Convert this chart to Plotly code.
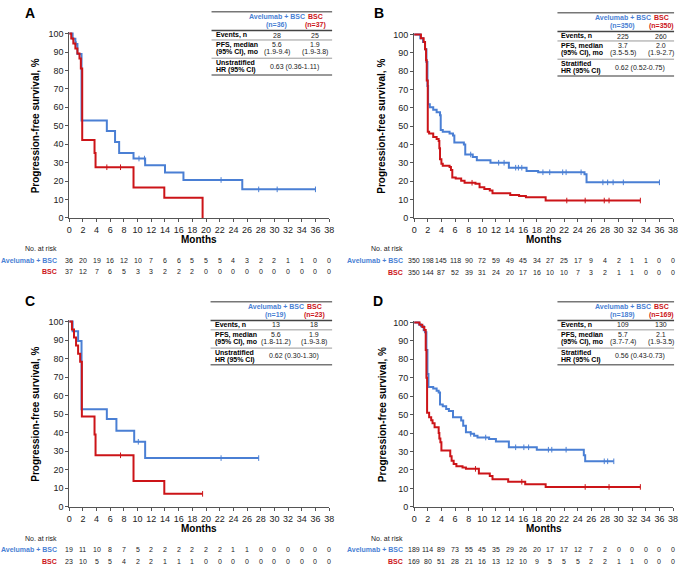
import plotly.graph_objects as go

# ---------------- DATA ----------------
MONTH_TICKS = list(range(0, 39, 2))
Y_TICKS = list(range(0, 101, 10))

# Panel A
A_avel_t = [0, 0.5, 0.9, 1.2, 1.8, 5.5, 6.7, 7.3, 9.4, 11.1, 14.0, 16.7, 25.3, 36.0]
A_avel_s = [100, 97.2, 94.4, 88.9, 52.8, 47.2, 41.2, 35.2, 32.2, 28.6, 24.7, 20.6, 15.5, 15.5]
A_avel_cens = [1.0, 10.2, 11.0, 22.2, 27.7, 30.4, 36.0]
A_bsc_t = [0, 0.3, 0.6, 0.9, 1.2, 1.5, 1.7, 1.9, 3.7, 3.85, 9.4, 13.9, 19.5]
A_bsc_s = [100, 97.3, 94.6, 91.9, 89.2, 86.5, 81.0, 42.3, 35.2, 27.5, 16.5, 11.0, 0]
A_bsc_cens = [5.5, 7.5]
A_risk_avel = [36, 20, 19, 16, 12, 10, 7, 6, 6, 5, 5, 5, 4, 3, 2, 2, 1, 1, 0, 0]
A_risk_bsc = [37, 12, 7, 6, 5, 3, 3, 2, 2, 2, 0, 0, 0, 0, 0, 0, 0, 0, 0, 0]
A_table = {"n": ["(n=36)", "(n=37)"], "events": ["28", "25"],
           "pfs": ["5.6", "(1.9-9.4)", "1.9", "(1.9-3.8)"],
           "hr_label": "Unstratified", "hr": "0.63 (0.36-1.11)"}

# Panel B
B_avel_t = [0, 0.9, 1.3, 1.6, 1.8, 1.95, 2.05, 2.3, 2.8, 3.3, 3.8, 3.9, 4.2, 5.2, 5.7, 5.9, 7.3,
            7.5, 8.6, 9.2, 11.2, 13.9, 16.5, 18.2, 25.0, 25.3, 36.0]
B_avel_s = [100, 98, 96, 92, 85, 72, 62, 60.3, 59, 57.7, 56, 48, 47, 46, 45, 41.2, 40,
            34.6, 33.3, 31.4, 30.1, 27.4, 25.6, 24.9, 23.8, 19.4, 19.4]
B_avel_cens = [8.3, 12.4, 13.2, 14.9, 15.3, 15.8, 18.9, 19.9, 21.8, 22.3, 24.5, 27.7, 28.4,
               29.2, 30.7, 36.0]
B_bsc_t = [0, 1.0, 1.4, 1.6, 1.75, 1.85, 2.0, 2.2, 2.8, 3.3, 3.6, 3.7, 3.8, 4.0, 4.2, 5.2,
           5.4, 5.6, 6.1, 6.9, 7.4, 9.0, 9.6, 10.3, 11.1, 11.5, 14.1, 15.4, 16.4, 19.3, 33.2]
B_bsc_s = [100, 98, 96, 92, 86, 75, 47, 46, 44.1, 43, 42, 38, 32, 29.5, 28.5, 27.8,
           26.2, 22, 21.5, 20.3, 19.2, 18.6, 16.7, 15.8, 14.9, 13.4, 12.5, 12, 11.3, 9.5, 9.5]
B_bsc_cens = [8.5, 22.4, 25.1, 27.9, 28.6, 33.2]
B_risk_avel = [350, 198, 145, 118, 90, 72, 59, 49, 45, 34, 27, 25, 17, 9, 4, 2, 1, 1, 0, 0]
B_risk_bsc = [350, 144, 87, 52, 39, 31, 24, 20, 17, 16, 10, 10, 7, 3, 2, 1, 1, 0, 0, 0]
B_table = {"n": ["(n=350)", "(n=350)"], "events": ["225", "260"],
           "pfs": ["3.7", "(3.5-5.5)", "2.0", "(1.9-2.7)"],
           "hr_label": "Stratified", "hr": "0.62 (0.52-0.75)"}

# Panel C
C_avel_t = [0, 0.5, 1.3, 1.8, 5.5, 6.9, 9.5, 11.1, 27.7]
C_avel_s = [100, 94.7, 89.5, 52.6, 47.4, 41.1, 35.1, 26.3, 26.3]
C_avel_cens = [10.1, 22.2, 27.7]
C_bsc_t = [0, 0.4, 0.7, 1.0, 1.3, 1.6, 1.85, 3.7, 3.85, 9.4, 13.9, 19.5]
C_bsc_s = [100, 95.7, 91.3, 87.0, 82.6, 78.3, 48.7, 39.0, 27.8, 13.9, 7.0, 7.0]
C_bsc_cens = [7.5, 19.5]
C_risk_avel = [19, 11, 10, 8, 7, 5, 2, 2, 2, 2, 2, 2, 1, 1, 0, 0, 0, 0, 0, 0]
C_risk_bsc = [23, 10, 5, 5, 4, 2, 2, 1, 1, 1, 0, 0, 0, 0, 0, 0, 0, 0, 0, 0]
C_table = {"n": ["(n=19)", "(n=23)"], "events": ["13", "18"],
           "pfs": ["5.6", "(1.8-11.2)", "1.9", "(1.9-3.8)"],
           "hr_label": "Unstratified", "hr": "0.62 (0.30-1.30)"}

# Panel D
D_avel_t = [0, 0.7, 1.0, 1.4, 1.6, 1.8, 1.95, 2.1, 2.8, 3.3, 3.6, 3.8, 4.2, 4.7, 5.1, 5.7,
            6.9, 7.2, 7.6, 8.3, 8.8, 9.3, 11.0, 12.0, 13.9, 18.0, 24.9, 25.1, 29.3]
D_avel_s = [100, 98.9, 97.9, 95.8, 94.7, 85, 72, 65, 64.2, 63, 62, 55.5, 54.5, 53, 52, 48.6,
            46.8, 44, 40.5, 39.6, 38.5, 37.6, 36.8, 35.5, 32.3, 31, 28, 24.7, 24.7]
D_avel_cens = [8.3, 10.5, 14.9, 16.1, 16.8, 19.7, 20.2, 22.3, 27.9, 28.4, 29.3]
D_bsc_t = [0, 0.8, 1.2, 1.5, 1.7, 1.8, 1.9, 2.2, 2.5, 2.7, 3.0, 3.6, 3.7, 3.85, 4.0, 5.3,
           5.5, 5.8, 6.2, 7.1, 7.6, 9.5, 11.1, 11.5, 13.8, 16.3, 19.3, 33.2]
D_bsc_s = [100, 98.8, 97.6, 95.9, 85, 70, 51, 48.6, 47, 45.4, 43.2, 40, 37, 35, 30.5, 27.4,
           25, 23.3, 22, 21.3, 20.6, 18.1, 16.7, 14.9, 13.6, 12.2, 10.8, 10.8]
D_bsc_cens = [9.0, 15.8, 25.1, 28.6, 33.2]
D_risk_avel = [189, 114, 89, 73, 55, 45, 35, 29, 26, 20, 17, 17, 12, 7, 2, 0, 0, 0, 0, 0]
D_risk_bsc = [169, 80, 51, 28, 21, 16, 13, 12, 10, 9, 5, 5, 5, 2, 2, 1, 1, 0, 0, 0]
D_table = {"n": ["(n=189)", "(n=169)"], "events": ["109", "130"],
           "pfs": ["5.7", "(3.7-7.4)", "2.1", "(1.9-3.5)"],
           "hr_label": "Stratified", "hr": "0.56 (0.43-0.73)"}

ARM_LABELS = ["Avelumab + BSC", "BSC"]

# ---------------- STYLE / LAYOUT ----------------
W, H = 685, 571
FONT = "Arial, 'Liberation Sans', Helvetica, sans-serif"
BLUE = "#4a7fd4"
RED = "#cc1418"
INK = "#222222"
AXC = "#555555"


def px(x):
    return x / W


def py(y):
    return 1 - y / H


def step_at(t, s, x):
    v = s[0]
    for ti, si in zip(t, s):
        if ti <= x:
            v = si
        else:
            break
    return v


panels = [
    dict(letter="A", ax="", x0=67, x1=330, ytop=31, ybot=218, tl=211, tr=333, tt=9,
         risk=[249, 261, 272], months=240, lab_r=57, ytitle=33, let=(27, 10.5),
         avel=(A_avel_t, A_avel_s, A_avel_cens), bsc=(A_bsc_t, A_bsc_s, A_bsc_cens),
         ravel=A_risk_avel, rbsc=A_risk_bsc, table=A_table),
    dict(letter="B", ax="2", x0=416, x1=678, ytop=32, ybot=218, tl=561, tr=679, tt=10,
         risk=[249, 261, 273], months=240, lab_r=407, ytitle=383, let=(380, 10),
         avel=(B_avel_t, B_avel_s, B_avel_cens), bsc=(B_bsc_t, B_bsc_s, B_bsc_cens),
         ravel=B_risk_avel, rbsc=B_risk_bsc, table=B_table),
    dict(letter="C", ax="3", x0=67, x1=330, ytop=323, ybot=511, tl=210, tr=333, tt=303,
         risk=[543, 554, 566], months=533, lab_r=57, ytitle=33, let=(27, 302),
         avel=(C_avel_t, C_avel_s, C_avel_cens), bsc=(C_bsc_t, C_bsc_s, C_bsc_cens),
         ravel=C_risk_avel, rbsc=C_risk_bsc, table=C_table),
    dict(letter="D", ax="4", x0=416, x1=678, ytop=324, ybot=511, tl=561, tr=679, tt=303,
         risk=[543, 554, 566], months=533, lab_r=407, ytitle=384, let=(379, 302),
         avel=(D_avel_t, D_avel_s, D_avel_cens), bsc=(D_bsc_t, D_bsc_s, D_bsc_cens),
         ravel=D_risk_avel, rbsc=D_risk_bsc, table=D_table),
]

fig = go.Figure()
annotations = []
shapes = []
layout_axes = {}

YMAX = 101.0

for p in panels:
    xa = "x" + p["ax"]
    ya = "y" + p["ax"]
    h100 = p["ybot"] - p["ytop"]
    top = p["ybot"] - h100 * YMAX / 100.0
    layout_axes["xaxis" + p["ax"]] = dict(
        domain=[px(p["x0"]), px(p["x1"])], range=[0, 38], tickvals=MONTH_TICKS,
        ticks="outside", ticklen=3, tickwidth=1, tickcolor=AXC,
        showline=True, linecolor=AXC, linewidth=1, showgrid=False, zeroline=False,
        tickfont=dict(family=FONT, size=9, color=INK), anchor=ya, fixedrange=True)
    layout_axes["yaxis" + p["ax"]] = dict(
        domain=[py(p["ybot"]), py(top)], range=[0, YMAX], tickvals=Y_TICKS,
        ticks="outside", ticklen=3, tickwidth=1, tickcolor=AXC,
        showline=True, linecolor=AXC, linewidth=1, showgrid=False, zeroline=False,
        tickfont=dict(family=FONT, size=9, color=INK), anchor=xa, fixedrange=True)

    for arm, color in (("avel", BLUE), ("bsc", RED)):
        t, s, cens = p[arm]
        fig.add_trace(go.Scatter(x=t, y=s, mode="lines", xaxis=xa, yaxis=ya,
                                 line=dict(color=color, width=2, shape="hv"),
                                 showlegend=False, hoverinfo="skip"))
        fig.add_trace(go.Scatter(x=cens, y=[step_at(t, s, c) for c in cens],
                                 mode="markers", xaxis=xa, yaxis=ya, cliponaxis=False,
                                 marker=dict(symbol="line-ns-open", size=4, color=color,
                                             line=dict(color=color, width=1)),
                                 showlegend=False, hoverinfo="skip"))

    annotations.append(dict(text="<b>%s</b>" % p["letter"], x=px(p["let"][0]), y=py(p["let"][1]),
                            xref="paper", yref="paper", showarrow=False, xanchor="center",
                            yanchor="middle", font=dict(family=FONT, size=14, color="black")))
    annotations.append(dict(text="<b>Months</b>", x=px((p["x0"] + p["x1"]) / 2), y=py(p["months"]),
                            xref="paper", yref="paper", showarrow=False, xanchor="center",
                            yanchor="middle", font=dict(family=FONT, size=10, color="black")))
    annotations.append(dict(text="<b>Progression-free survival, %</b>", x=px(p["ytitle"]),
                            y=py((p["ytop"] + p["ybot"]) / 2), xref="paper", yref="paper",
                            showarrow=False, textangle=-90, xanchor="center", yanchor="middle",
                            font=dict(family=FONT, size=10, color="black")))
    r0, r1, r2 = p["risk"]
    annotations.append(dict(text="No. at risk", x=px(p["lab_r"]), y=py(r0), xref="paper",
                            yref="paper", showarrow=False, xanchor="right", yanchor="middle",
                            font=dict(family=FONT, size=7, color=INK)))
    annotations.append(dict(text="<b>%s</b>" % ARM_LABELS[0], x=px(p["lab_r"]), y=py(r1),
                            xref="paper", yref="paper", showarrow=False, xanchor="right",
                            yanchor="middle", font=dict(family=FONT, size=7, color=BLUE)))
    annotations.append(dict(text="<b>%s</b>" % ARM_LABELS[1], x=px(p["lab_r"]), y=py(r2),
                            xref="paper", yref="paper", showarrow=False, xanchor="right",
                            yanchor="middle", font=dict(family=FONT, size=7, color=RED)))
    for tick, va, vb in zip(MONTH_TICKS, p["ravel"], p["rbsc"]):
        for val, yy in ((va, r1), (vb, r2)):
            annotations.append(dict(text=str(val), x=tick, y=py(yy), xref=xa, yref="paper",
                                    showarrow=False, xanchor="center", yanchor="middle",
                                    font=dict(family=FONT, size=7, color=INK)))

    tl, tr, tt = p["tl"], p["tr"], p["tt"]
    tb = p["table"]
    c1, c2, chr_ = tl + 66, tl + 105, tl + 84
    for yy, wdt, col in ((tt, 1.5, "#777"), (tt + 19, 1.5, "#444"), (tt + 28.5, 1, "#999"),
                         (tt + 47, 1, "#999"), (tt + 64, 1.5, "#777")):
        shapes.append(dict(type="line", xref="paper", yref="paper", x0=px(tl), x1=px(tr),
                           y0=py(yy), y1=py(yy), line=dict(color=col, width=wdt)))

    def txt(s, x, y, anchor="center", color=INK, bold=False):
        annotations.append(dict(text=("<b>%s</b>" % s) if bold else s, x=px(x), y=py(y),
                                xref="paper", yref="paper", showarrow=False, xanchor=anchor,
                                yanchor="middle", font=dict(family=FONT, size=7, color=color)))

    txt(ARM_LABELS[0], c1, tt + 5, color=BLUE, bold=True)
    txt(ARM_LABELS[1], c2, tt + 5, color=RED, bold=True)
    txt(tb["n"][0], c1, tt + 13, color=BLUE, bold=True)
    txt(tb["n"][1], c2, tt + 13, color=RED, bold=True)
    txt("Events, n", tl + 2, tt + 23.5, anchor="left", color="black", bold=True)
    txt(tb["events"][0], c1, tt + 23.5)
    txt(tb["events"][1], c2, tt + 23.5)
    txt("PFS, median", tl + 2, tt + 33.5, anchor="left", color="black", bold=True)
    txt("(95% CI), mo", tl + 2, tt + 41, anchor="left", color="black", bold=True)
    txt(tb["pfs"][0], c1, tt + 33.5)
    txt(tb["pfs"][1], c1, tt + 41)
    txt(tb["pfs"][2], c2, tt + 33.5)
    txt(tb["pfs"][3], c2, tt + 41)
    txt(tb["hr_label"], tl + 2, tt + 51.5, anchor="left", color="black", bold=True)
    txt("HR (95% CI)", tl + 2, tt + 59, anchor="left", color="black", bold=True)
    txt(tb["hr"], chr_, tt + 55.5)

fig.update_layout(
    width=W, height=H, margin=dict(l=0, r=0, t=0, b=0),
    paper_bgcolor="white", plot_bgcolor="white", showlegend=False,
    font=dict(family=FONT, size=9, color=INK),
    annotations=annotations, shapes=shapes, **layout_axes)

fig.write_html("out.html", config={"displayModeBar": False},
               post_script="document.body.style.margin='0px';document.body.style.overflow='hidden';")
